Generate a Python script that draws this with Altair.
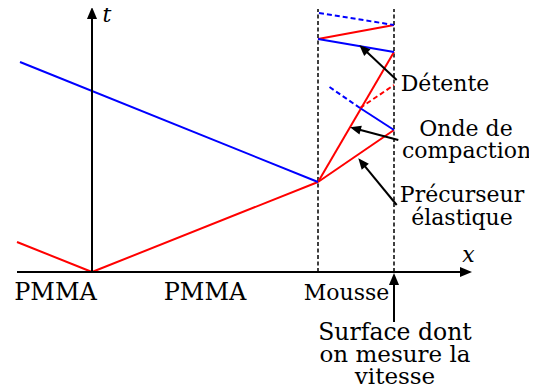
import math
import altair as alt
import pandas as pd

# Coordinates: X = position along x, T = time (schematic units)
red_solid = [(-75, 30, 0, 0), (0, 0, 226, 90), (226, 90, 302, 142),
             (226, 90, 302, 220), (226, 233, 302, 247)]
red_dashed = [(268, 164, 302, 187)]
blue_solid = [(-72, 210, 226, 90), (302, 142, 268, 164), (302, 220, 226, 233)]
blue_dashed = [(268, 164, 236, 186), (227, 259, 302, 247)]
interfaces = [(226, 0, 226, 263), (302, 0, 302, 263)]

axis_arrows = [(-75, 0, 380, 0), (0, 0, 0, 265)]
bottom_arrow = [(302, -50, 302, -1)]
label_arrows = [(304.7, 192, 267.3, 227), (306.3, 132, 258, 144.7),
                (304.7, 67, 266.3, 113.7)]

label_text = ["PMMA", "PMMA", "Mousse", "Détente", "Onde de", "compaction",
              "Précurseur", "élastique", "Surface dont", "on mesure la", "vitesse"]
label_x = [-36.5, 113, 254.5, 353, 374, 374.5, 370, 370, 303, 303, 303]
label_t = [-28, -28, -28, 181, 136, 114, 70, 47, -68, -90, -112]
label_size = [24, 24, 22, 22, 22, 22, 22, 22, 23.5, 23, 23]

axis_names = ["t", "x"]
axis_name_x = [15, 376.5]
axis_name_t = [250, 10]

xs = alt.Scale(domain=[-84, 437], zero=False, nice=False)
ys = alt.Scale(domain=[-112, 264], zero=False, nice=False)


def seg_df(segs):
    return pd.DataFrame(segs, columns=["x", "y", "x2", "y2"])


def rules(segs, color, width, dash=None):
    kw = dict(color=color, strokeWidth=width)
    if dash:
        kw["strokeDash"] = dash
    return alt.Chart(seg_df(segs)).mark_rule(**kw).encode(
        x=alt.X("x:Q", scale=xs, axis=None),
        y=alt.Y("y:Q", scale=ys, axis=None),
        x2="x2:Q", y2="y2:Q")


def arrows(segs, width, head_size):
    shaft = []
    heads = []
    for x1, y1, x2, y2 in segs:
        dx, dy = x2 - x1, y2 - y1
        n = math.hypot(dx, dy)
        ux, uy = dx / n, dy / n
        shaft.append((x1, y1, x2 - ux * 6, y2 - uy * 6))
        ang = math.degrees(math.atan2(dx, dy)) % 360
        heads.append((x2, y2, ang))
    hd = pd.DataFrame(heads, columns=["x", "y", "angle"])
    head = alt.Chart(hd).mark_point(
        shape="M0,0 L0.42,1 L-0.42,1 Z", filled=True, color="black",
        opacity=1, size=head_size, strokeWidth=0).encode(
        x=alt.X("x:Q", scale=xs, axis=None),
        y=alt.Y("y:Q", scale=ys, axis=None),
        angle=alt.Angle("angle:Q", scale=None))
    return rules(shaft, "black", width) + head


texts = pd.DataFrame({"x": label_x, "y": label_t, "text": label_text,
                      "size": label_size})
text_layer = alt.Chart(texts).mark_text(
    font="DejaVu Serif", align="center", baseline="alphabetic",
    color="black").encode(
    x=alt.X("x:Q", scale=xs, axis=None),
    y=alt.Y("y:Q", scale=ys, axis=None),
    size=alt.Size("size:Q", scale=None),
    text="text:N")

names = pd.DataFrame({"x": axis_name_x, "y": axis_name_t, "text": axis_names})
name_layer = alt.Chart(names).mark_text(
    font="DejaVu Serif", fontSize=22, fontStyle="italic", align="center",
    baseline="alphabetic", color="black").encode(
    x=alt.X("x:Q", scale=xs, axis=None),
    y=alt.Y("y:Q", scale=ys, axis=None),
    text="text:N")

chart = alt.layer(
    rules(interfaces, "black", 1.5, [4, 2.5]),
    rules(red_solid, "#ff0000", 2),
    rules(blue_solid, "#0000ff", 2),
    rules(red_dashed, "#ff0000", 2, [5, 3]),
    rules(blue_dashed, "#0000ff", 2, [5, 3]),
    arrows(axis_arrows, 2, 576),
    arrows(bottom_arrow, 2, 576),
    arrows(label_arrows, 2, 484),
    text_layer,
    name_layer,
).properties(width=521, height=376, padding=0, autosize="none",
             background="white").configure_view(stroke=None)

chart.save("out.html", embed_options={"renderer": "svg", "actions": False})
